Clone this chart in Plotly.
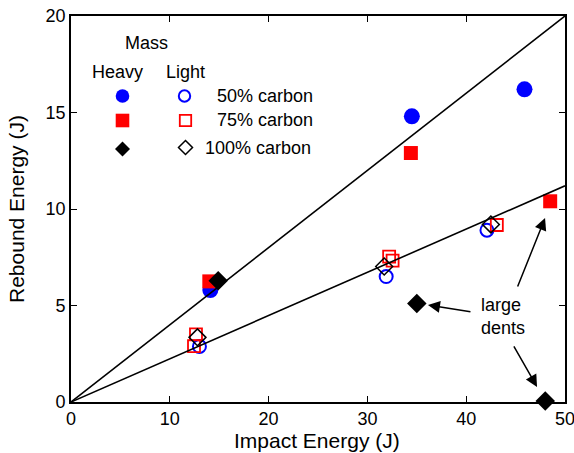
import plotly.graph_objects as go

# ---- data ----
heavy50_x = [14.1, 34.5, 45.9]
heavy50_y = [5.8, 14.8, 16.2]
heavy75_x = [14.0, 34.4, 48.5]
heavy75_y = [6.25, 12.9, 10.4]
heavy100_x = [14.9, 35.0, 48.0]
heavy100_y = [6.28, 5.1, 0.05]

light50_x = [13.0, 31.9, 42.1]
light50_y = [2.88, 6.5, 8.9]
light75_x = [12.45, 12.65, 32.2, 32.55, 43.1]
light75_y = [2.9, 3.5, 7.53, 7.33, 9.17]
light100_x = [12.8, 31.7, 42.5]
light100_y = [3.35, 7.02, 9.2]

fit_x = [0, 50]
heavy_slope = 0.40
light_slope = 0.224

FONT = "Liberation Sans, Arial, sans-serif"

# plot-area pixel geometry (for placing the hand-made key)
L, R, T, B = 71, 565, 16, 402
W, H = 574, 453


def px(x):
    return (x - L) / (R - L)


def py(y):
    return (B - y) / (B - T)


fig = go.Figure()


def add(x, y, symbol, color, size, lw, lc):
    fig.add_trace(go.Scatter(
        x=x, y=y, mode="markers", cliponaxis=False,
        marker=dict(symbol=symbol, color=color, size=size,
                    line=dict(width=lw, color=lc)),
        showlegend=False, hoverinfo="skip"))


add(heavy50_x, heavy50_y, "circle", "#0000ff", 16, 0, "#0000ff")
add(heavy75_x, heavy75_y, "square", "#ff0000", 14, 0, "#ff0000")
add(heavy100_x, heavy100_y, "diamond", "#000000", 15, 0, "#000000")
add(light50_x, light50_y, "circle-open", "#0000ff", 13, 2, "#0000ff")
add(light75_x, light75_y, "square-open", "#ff0000", 12, 1.8, "#ff0000")
add(light100_x, light100_y, "diamond-open", "#000000", 13, 1.5, "#000000")

for s in (heavy_slope, light_slope):
    fig.add_trace(go.Scatter(
        x=fit_x, y=[s * v for v in fit_x], mode="lines",
        line=dict(color="black", width=1.6),
        showlegend=False, hoverinfo="skip"))

shapes = []
annotations = []


def box(cx, cy, half):
    return dict(x0=px(cx - half), x1=px(cx + half),
                y0=py(cy + half), y1=py(cy - half))


def diamond_path(cx, cy, half):
    pts = [(cx, cy - half), (cx + half, cy), (cx, cy + half), (cx - half, cy)]
    return "M " + " L ".join(f"{px(a):.5f},{py(b):.5f}" for a, b in pts) + " Z"


# key markers (heavy column filled, light column open)
shapes.append(dict(type="circle", xref="paper", yref="paper",
                   fillcolor="#0000ff", line=dict(width=0), **box(122.5, 96, 6.8)))
shapes.append(dict(type="rect", xref="paper", yref="paper",
                   fillcolor="#ff0000", line=dict(width=0), **box(122.5, 120.5, 6.8)))
shapes.append(dict(type="path", xref="paper", yref="paper",
                   path=diamond_path(122.5, 149, 7.5),
                   fillcolor="#000000", line=dict(width=0)))
shapes.append(dict(type="circle", xref="paper", yref="paper",
                   fillcolor="rgba(0,0,0,0)", line=dict(width=2, color="#0000ff"),
                   **box(184.5, 96, 5.7)))
shapes.append(dict(type="rect", xref="paper", yref="paper",
                   fillcolor="rgba(0,0,0,0)", line=dict(width=1.8, color="#ff0000"),
                   **box(185.5, 120.5, 5.7)))
shapes.append(dict(type="path", xref="paper", yref="paper",
                   path=diamond_path(185.5, 147.5, 7),
                   fillcolor="rgba(0,0,0,0)", line=dict(width=1.5, color="#000000")))
for shp in shapes:
    shp["layer"] = "above"


def label(text, x, y, anchor="center", size=18, angle=0):
    annotations.append(dict(text=text, xref="paper", yref="paper",
                            x=px(x), y=py(y), xanchor=anchor, yanchor="middle",
                            showarrow=False, textangle=angle,
                            font=dict(family=FONT, size=size, color="black")))


label("Mass", 146, 43)
label("Heavy", 117, 72)
label("Light", 185, 72)
label("50% carbon", 215, 96, "left")
label("75% carbon", 215, 120.5, "left")
label("100% carbon", 203, 147.5, "left")

# axis titles
label("Impact Energy (J)", 317, 441, size=21)
label("Rebound Energy (J)", 16, 209, size=21, angle=-90)

annotations.append(dict(text="large<br>dents", x=41.3, y=4.45, xref="x", yref="y",
                        xanchor="left", yanchor="middle", align="left", showarrow=False,
                        font=dict(family=FONT, size=18, color="black")))

for hx, hy, ax, ay in [(36.13, 5.03, 44, 7), (47.98, 9.53, -28, 70), (47.17, 0.78, -24, -42)]:
    annotations.append(dict(text="", x=hx, y=hy, xref="x", yref="y",
                            ax=ax, ay=ay, axref="pixel", ayref="pixel",
                            showarrow=True, arrowhead=2, arrowsize=1.6,
                            arrowwidth=1.5, arrowcolor="black", standoff=0))

axis_common = dict(showline=True, linecolor="black", linewidth=1.6, mirror="ticks",
                   ticks="inside", ticklen=6, tickwidth=1.2, tickcolor="black",
                   showgrid=False, zeroline=False, automargin=False,
                   ticklabeloverflow="allow",
                   tickfont=dict(family=FONT, size=18, color="black"))

fig.update_layout(
    width=W, height=H,
    margin=dict(l=L, r=W - R, t=T, b=H - B, autoexpand=False),
    paper_bgcolor="white", plot_bgcolor="white",
    xaxis=dict(range=[0, 50], tickvals=[0, 10, 20, 30, 40, 50], **axis_common),
    yaxis=dict(range=[0, 20], tickvals=[0, 5, 10, 15, 20], **axis_common),
    shapes=shapes, annotations=annotations,
)

fig.write_html("out.html", config={"displayModeBar": False},
               post_script="document.body.style.margin='0';document.body.style.overflow='hidden';")
